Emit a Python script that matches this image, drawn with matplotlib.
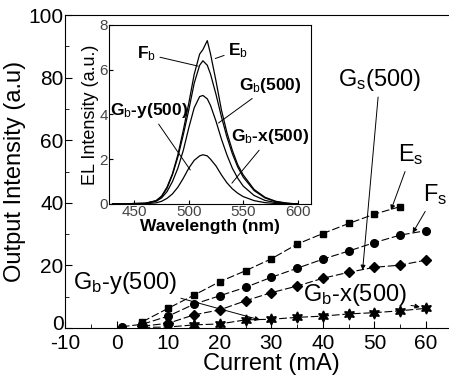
import matplotlib
matplotlib.use('Agg')
import matplotlib.pyplot as plt
import matplotlib.transforms as mtransforms
from matplotlib.ticker import MultipleLocator

plt.rcParams['font.family'] = ['Liberation Sans', 'DejaVu Sans']
plt.rcParams['mathtext.fontset'] = 'custom'
plt.rcParams['mathtext.rm'] = 'Liberation Sans'
plt.rcParams['mathtext.it'] = 'Liberation Sans'
plt.rcParams['mathtext.bf'] = 'Liberation Sans:bold'
plt.rcParams['axes.unicode_minus'] = False

# main plot data: output intensity vs current
cur_e = [5, 10, 15, 20, 25, 30, 35, 40, 45, 50, 55]
e_s = [2.0, 6.3, 10.5, 14.8, 18.3, 22.1, 26.8, 30.2, 33.4, 36.4, 38.8]
cur_f = [1, 5, 10, 15, 20, 25, 30, 35, 40, 45, 50, 55, 60]
f_s = [0.4, 1.2, 3.8, 7.6, 10.3, 13.0, 16.2, 19.1, 22.0, 24.6, 27.3, 29.7, 31.1]
cur_g = [5, 10, 15, 20, 25, 30, 35, 40, 45, 50, 55, 60]
g_s = [0.6, 1.5, 4.2, 5.8, 8.7, 11.3, 13.4, 15.9, 17.8, 19.4, 20.1, 21.7]
g_b = [0.2, 0.3, 1.0, 1.3, 2.6, 2.8, 3.4, 3.8, 4.5, 4.9, 5.5, 6.3]

# inset data: EL spectra
wl = [430, 460, 470, 475, 480, 485, 490, 495, 500, 505, 510, 513, 517,
      520, 525, 530, 535, 540, 545, 550, 560, 570, 580, 590, 600]
el_eb = [0.0, 0.03, 0.15, 0.35, 0.75, 1.35, 2.2, 3.3, 4.5, 5.8, 6.7, 6.9, 7.3,
         6.7, 5.5, 4.2, 3.2, 2.4, 1.75, 1.3, 0.65, 0.3, 0.12, 0.04, 0.0]
el_fb = [0.0, 0.03, 0.14, 0.33, 0.7, 1.3, 2.1, 3.1, 4.2, 5.4, 6.2, 6.4, 6.2,
         5.8, 4.9, 3.9, 3.0, 2.25, 1.65, 1.2, 0.6, 0.27, 0.1, 0.03, 0.0]
el_gb = [0.0, 0.03, 0.12, 0.27, 0.55, 1.0, 1.6, 2.4, 3.4, 4.3, 4.8, 4.85, 4.7,
         4.4, 3.7, 2.9, 2.2, 1.6, 1.15, 0.8, 0.38, 0.16, 0.06, 0.02, 0.0]
el_gbxy = [0.0, 0.01, 0.05, 0.12, 0.25, 0.45, 0.75, 1.15, 1.6, 1.95, 2.15, 2.2, 2.15,
           2.0, 1.7, 1.3, 0.95, 0.68, 0.48, 0.33, 0.15, 0.06, 0.02, 0.01, 0.0]

fig = plt.figure(figsize=(4.49, 3.83), dpi=100)
ax = fig.add_axes([0.1448, 0.1436, 0.919, 0.817])

ls = dict(color='k', lw=0.8, dashes=(7, 2.5))
ax.plot(cur_e, e_s, marker='s', ms=5, **ls)
ax.plot(cur_f, f_s, marker='o', ms=5.5, **ls)
ax.plot(cur_g, g_s, marker='D', ms=5.5, **ls)
ax.plot(cur_g, g_b, marker=(6, 1, 0), ms=8, **ls)

ax.set_xlim(-10, 70)
ax.set_ylim(0, 100)
ax.set_xticks([-10, 0, 10, 20, 30, 40, 50, 60])
ax.set_yticks([0, 20, 40, 60, 80, 100])
ax.xaxis.set_minor_locator(MultipleLocator(5))
ax.yaxis.set_minor_locator(MultipleLocator(10))
ax.tick_params(which='both', direction='in', labelsize=15, top=False, right=False)
ax.tick_params(axis='x', pad=4)
ax.tick_params(axis='y', pad=1)
ax.tick_params(which='major', length=5)
ax.tick_params(which='minor', length=3)
ax.set_xlabel('Current (mA)', fontsize=17, labelpad=0)
ax.set_ylabel('Output Intensity (a.u)', fontsize=17, labelpad=2)

# nudge the "0" on y up a bit so it sits just above "-10"
t0 = ax.yaxis.get_major_ticks()[0].label1
t0.set_transform(t0.get_transform() +
                 mtransforms.ScaledTranslation(0, 4 / 72, fig.dpi_scale_trans))

ap = dict(arrowstyle='-|>', color='k', lw=0.7, mutation_scale=7, shrinkA=1, shrinkB=0)
fs = 17
ax.annotate(r'G$_\mathrm{s}$(500)', xy=(47.7, 18.5), xytext=(51.0, 79.3),
            ha='center', va='center', fontsize=fs, arrowprops=ap)
ax.annotate(r'E$_\mathrm{s}$', xy=(53.2, 37.7), xytext=(57.1, 55.3),
            ha='center', va='center', fontsize=fs, arrowprops=ap)
ax.annotate(r'F$_\mathrm{s}$', xy=(57.4, 30.4), xytext=(61.7, 42.5),
            ha='center', va='center', fontsize=fs, arrowprops=ap)
ax.annotate(r'G$_\mathrm{b}$-y(500)', xy=(27.8, 2.6), xytext=(1.6, 14.4),
            ha='center', va='center', fontsize=fs, arrowprops=ap)
ax.annotate(r'G$_\mathrm{b}$-x(500)', xy=(58.8, 6.7), xytext=(46.2, 10.5),
            ha='center', va='center', fontsize=fs, arrowprops=ap)

# inset
ins = fig.add_axes([0.2434, 0.4674, 0.4486, 0.4674])
for y in (el_eb, el_fb, el_gb, el_gbxy):
    ins.plot(wl, y, color='k', lw=0.9)
ins.set_xlim(427, 612)
ins.set_ylim(0, 8)
ins.set_xticks([450, 500, 550, 600])
ins.set_yticks([0, 2, 4, 6, 8])
ins.tick_params(direction='in', labelsize=11, pad=1, length=3, labelcolor='#444444')
ins.set_xlabel('Wavelength (nm)', fontsize=12.5, fontweight='bold', labelpad=0)
ins.set_ylabel('EL Intensity (a.u.)', fontsize=13, labelpad=0)

lp = dict(arrowstyle='-', color='k', lw=0.7, shrinkA=1, shrinkB=0)
fi = 12.5
ins.annotate(r'F$_\mathrm{b}$', xy=(508.7, 6.16), xytext=(461, 6.7),
             ha='center', va='center', fontsize=fi, fontweight='bold', arrowprops=lp)
ins.annotate(r'E$_\mathrm{b}$', xy=(524.3, 6.5), xytext=(545.4, 6.86),
             ha='center', va='center', fontsize=fi, fontweight='bold', arrowprops=lp)
ins.annotate(r'G$_\mathrm{b}$(500)', xy=(527.3, 3.62), xytext=(574.8, 5.3),
             ha='center', va='center', fontsize=fi, fontweight='bold', arrowprops=lp)
ins.annotate(r'G$_\mathrm{b}$-y(500)', xy=(501.4, 1.52), xytext=(463.8, 4.17),
             ha='center', va='center', fontsize=fi, fontweight='bold', arrowprops=lp)
ins.annotate(r'G$_\mathrm{b}$-x(500)', xy=(539.6, 0.93), xytext=(574.8, 3.0),
             ha='center', va='center', fontsize=fi, fontweight='bold', arrowprops=lp)

fig.savefig('out.png', dpi=100)
